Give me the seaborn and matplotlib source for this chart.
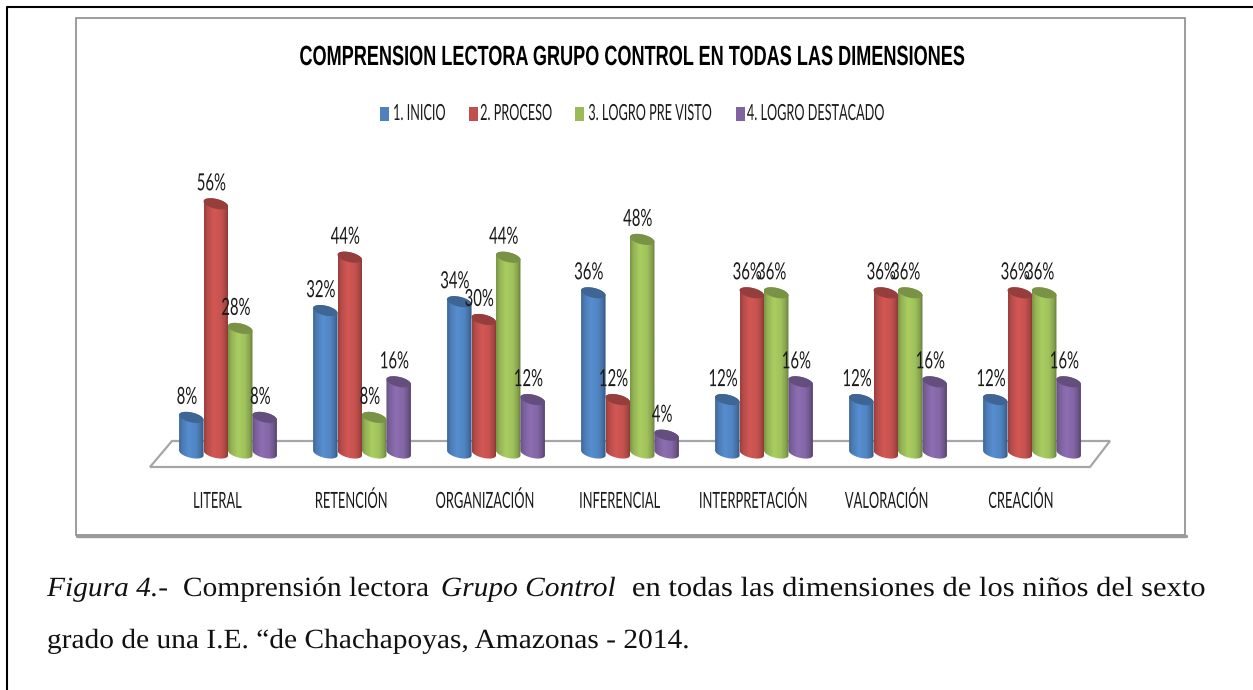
import matplotlib
matplotlib.use("Agg")
import matplotlib.pyplot as plt
import matplotlib.patheffects as pe
import numpy as np
import pandas as pd
import seaborn as sns
from matplotlib.lines import Line2D
from matplotlib.patches import Polygon, Rectangle
from matplotlib.transforms import Affine2D, ScaledTranslation

categories = ["LITERAL", "RETENCIÓN", "ORGANIZACIÓN", "INFERENCIAL", "INTERPRETACIÓN", "VALORACIÓN", "CREACIÓN"]
inicio = [8, 32, 34, 36, 12, 12, 12]
proceso = [56, 44, 30, 12, 36, 36, 36]
logro = [28, 8, 44, 48, 36, 36, 36]
destacado = [8, 16, 12, 4, 16, 16, 16]
series_names = ["1. INICIO", "2. PROCESO", "3. LOGRO PRE VISTO", "4. LOGRO DESTACADO"]
colors = ["#4F81BD", "#C0504D", "#9BBB59", "#8064A2"]
title = "COMPRENSION LECTORA GRUPO CONTROL EN TODAS LAS DIMENSIONES"

W, H = 1253, 690
SANS = ["Lato", "DejaVu Sans"]
SERIF = ["Liberation Serif", "DejaVu Serif"]


def fx(x):
    return x / W


def fy(y):
    return 1 - y / H


class Squeeze(pe.AbstractPathEffect):
    # the reference text is condensed or stretched, scale glyphs around an anchor of the string
    def __init__(self, sx, anchor=0.5):
        super().__init__()
        self.sx = sx
        self.anchor = anchor

    def draw_path(self, renderer, gc, tpath, affine, rgbFace=None):
        ext = tpath.get_extents()
        xm = ext.x0 + self.anchor * (ext.x1 - ext.x0)
        squeeze = Affine2D().translate(-xm, 0).scale(self.sx, 1).translate(xm, 0)
        renderer.draw_path(gc, tpath, squeeze + affine, rgbFace)


sns.set_theme(style="white")
plt.rcParams["font.family"] = SANS

rows = []
for name, values in zip(series_names, [inicio, proceso, logro, destacado]):
    for cat, val in zip(categories, values):
        rows.append({"dim": cat, "serie": name, "pct": val})
df = pd.DataFrame(rows)

fig = plt.figure(figsize=(W / 100, H / 100), dpi=100)
fig.patch.set_facecolor("white")

# outer box of the page, only left and top show
fig.add_artist(Line2D([fx(6.5), fx(6.5), 1], [0, fy(7), fy(7)], color="black", lw=1.5))
# chart frame with its shadow
fig.add_artist(Line2D([fx(77), fx(1186)], [fy(536), fy(536)], color="#9a9a9a", lw=2.4))
fig.add_artist(Rectangle((fx(76), fy(535)), 1109 / W, 517 / H, transform=fig.transFigure,
                         facecolor="white", edgecolor="#8c8c8c", lw=1.2))

# floor of the 3D plot
floor = [(150, 467), (1090, 467), (1110, 441), (172, 441)]
fig.add_artist(Polygon([(fx(x), fy(y)) for x, y in floor], closed=True, transform=fig.transFigure,
                       facecolor="white", edgecolor="#a6a6a6", lw=1.6))

ax = fig.add_axes([fx(161), fy(453), 938 / W, 267 / H], zorder=5)
ax.patch.set_alpha(0)
sns.barplot(data=df, x="dim", y="pct", hue="serie", palette=colors, width=0.73, gap=0, ax=ax, saturation=1,
            legend=False)
ax.set_xlim(-0.5, 6.5)
ax.set_ylim(0, 60)
ax.set_xlabel("")
ax.set_ylabel("")
ax.set_yticks([])
sns.despine(ax=ax, left=True, bottom=True)

ax.tick_params(axis="x", length=0, pad=28)
for lab in ax.get_xticklabels():
    lab.set_fontsize(16)
    lab.set_color("#1a1a1a")
    lab.set_path_effects([Squeeze(0.58)])
    lab.set_transform(lab.get_transform() + ScaledTranslation(-11 / 100, 0, fig.dpi_scale_trans))

# pixels to data units, used for the cylinder caps
x_per_px = 7 / 938
y_per_px = 60 / 267
ry = 5 * y_per_px
tilt = -0.2 * y_per_px / x_per_px
shade_x = [0, 0.12, 0.4, 0.7, 0.9, 1]
shade_v = [0.8, 0.95, 1.1, 1.03, 0.85, 0.65]
t_low = np.linspace(np.pi, 2 * np.pi, 40)
t_up = np.linspace(0, np.pi, 40)

n_cat = len(categories)
bars = [b for b in ax.patches if b.get_width() > 0][:n_cat * len(series_names)]
for i, bar in enumerate(bars):
    col = np.array(matplotlib.colors.to_rgb(colors[i // n_cat]))
    x0, w, top = bar.get_x(), bar.get_width(), bar.get_height()
    xc, rx = x0 + w / 2, w / 2
    bar.set_visible(False)

    # body: gradient image clipped to the cylinder outline
    xs = np.r_[xc + rx * np.cos(t_low), xc + rx * np.cos(t_up)]
    ys = np.r_[ry * np.sin(t_low) + tilt * rx * np.cos(t_low), top + ry * np.sin(t_up) + tilt * rx * np.cos(t_up)]
    outline = Polygon(np.c_[xs, ys], closed=True, transform=ax.transData, facecolor="none", edgecolor="none",
                      clip_on=False)
    ax.add_patch(outline)
    u = np.linspace(0, 1, 32)
    grad = np.clip(np.outer(np.interp(u, shade_x, shade_v), col), 0, 1)[None, :, :]
    im = ax.imshow(grad, extent=[x0, x0 + w, -2 * ry, top + 2 * ry], aspect="auto", origin="lower",
                   zorder=3 + i * 0.001, interpolation="bilinear", clip_on=True)
    im.set_clip_path(outline)
    im.set_clip_box(fig.bbox)

    # top cap
    t = np.linspace(0, 2 * np.pi, 60)
    cap = np.c_[xc + rx * np.cos(t), top + ry * np.sin(t) + tilt * rx * np.cos(t)]
    ax.add_patch(Polygon(cap, closed=True, facecolor=col * 0.78, edgecolor="none", zorder=3.5, clip_on=False))

    # value label above the bar
    ax.annotate(f"{top:.0f}%", (xc, top), xytext=(-3.2, 14.4), textcoords="offset points",
                ha="center", va="center", fontsize=17, color="#1a1a1a", zorder=5, path_effects=[Squeeze(0.63)])

ax.set_xlim(-0.5, 6.5)
ax.set_ylim(0, 60)

# legend, entries placed by hand because the labels are squeezed
leg_box_x = [380, 469, 575, 736]
leg_text_x = [419, 516, 650, 816]
for name, col, bx, tx in zip(series_names, colors, leg_box_x, leg_text_x):
    fig.add_artist(Rectangle((fx(bx), fy(121)), 9 / W, 14 / H, transform=fig.transFigure, facecolor=col,
                             edgecolor="none"))
    fig.text(fx(tx), fy(114), name, ha="center", va="center", fontsize=16, color="#1a1a1a",
             path_effects=[Squeeze(0.57)])

fig.text(fx(631.5), fy(58), title, ha="center", va="center", fontsize=20, fontweight="bold",
         family=["Liberation Sans", "DejaVu Sans"], color="black", path_effects=[Squeeze(0.652)])

# caption
cap_size = 20
cap_color = "#111111"
left_fx = [Squeeze(1.06, anchor=0)]
fig.text(fx(47), fy(596), "Figura 4.-", fontsize=cap_size, style="italic", family=SERIF, color=cap_color,
         va="baseline", path_effects=left_fx)
fig.text(fx(183), fy(596), "Comprensión lectora", fontsize=cap_size, family=SERIF, color=cap_color, va="baseline",
         path_effects=left_fx)
fig.text(fx(441), fy(596), "Grupo Control", fontsize=cap_size, style="italic", family=SERIF, color=cap_color,
         va="baseline", path_effects=left_fx)
fig.text(fx(632), fy(596), "en todas las dimensiones de los niños del sexto", fontsize=cap_size, family=SERIF,
         color=cap_color, va="baseline", path_effects=[Squeeze(1.10, anchor=0)])
fig.text(fx(47), fy(648), "grado de una I.E. “de Chachapoyas, Amazonas - 2014.", fontsize=cap_size, family=SERIF,
         color=cap_color, va="baseline", path_effects=left_fx)

fig.savefig("out.png", dpi=100)
